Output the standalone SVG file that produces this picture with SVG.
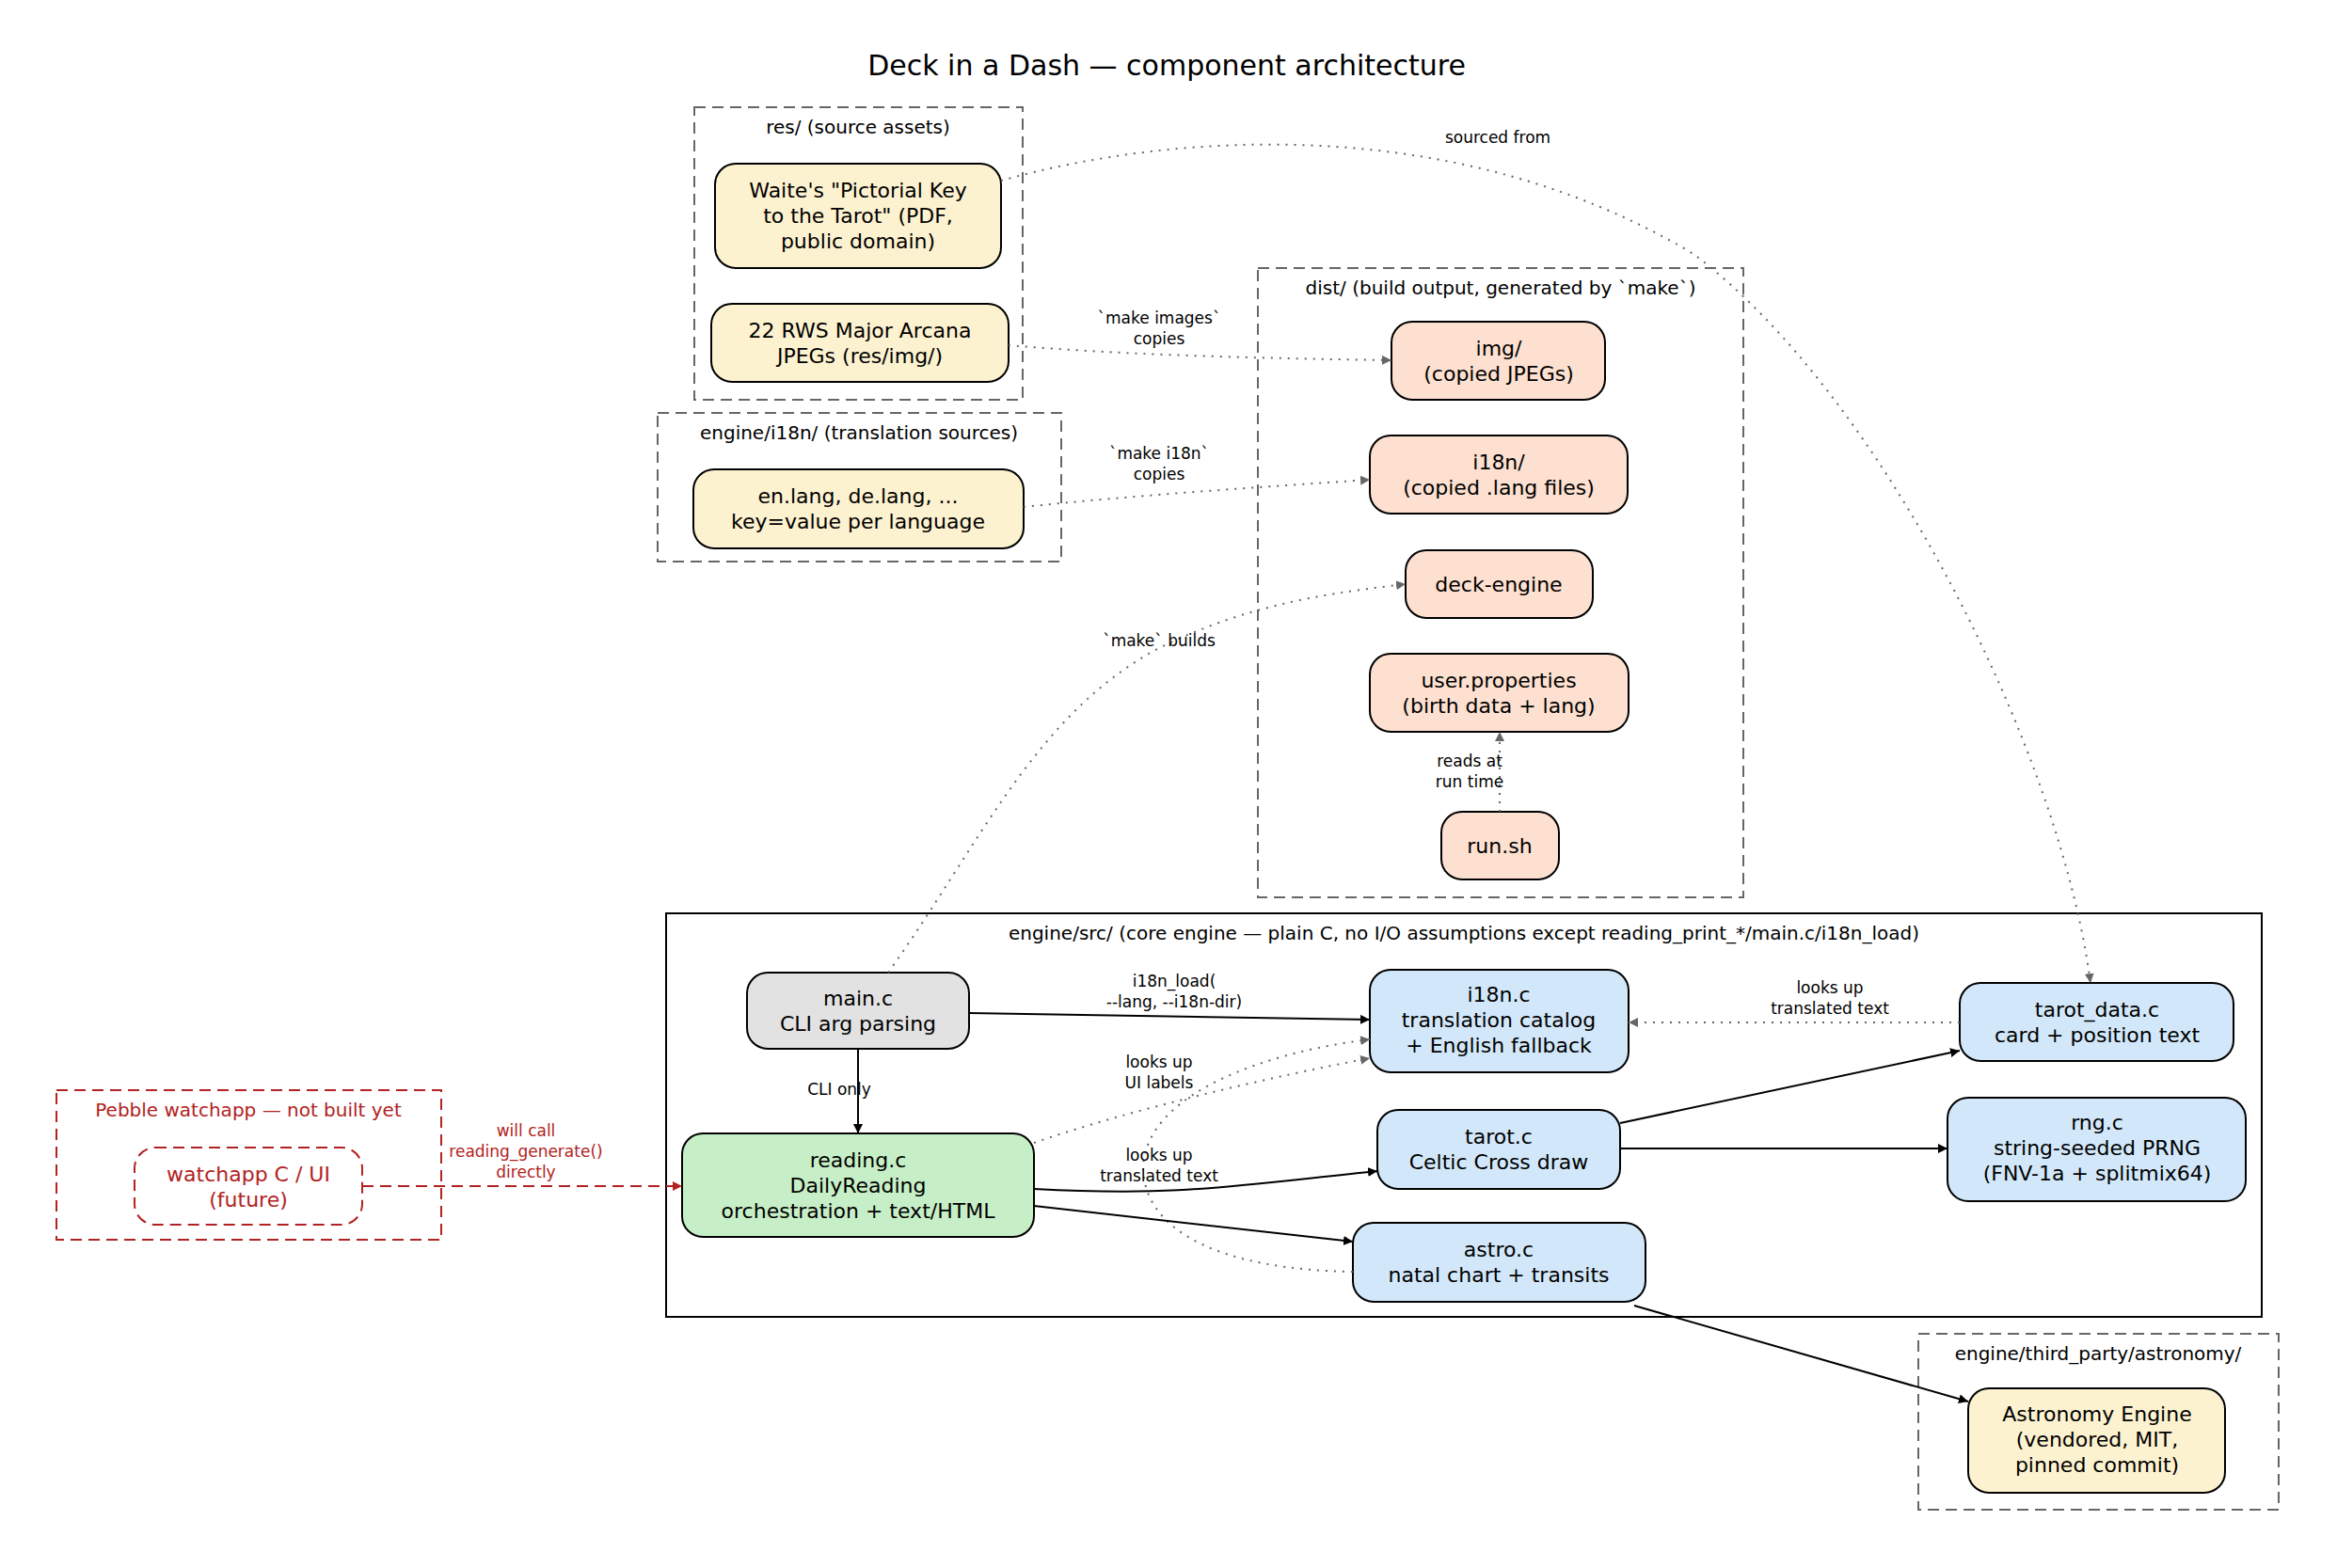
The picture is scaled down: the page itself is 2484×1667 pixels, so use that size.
<svg xmlns="http://www.w3.org/2000/svg" width="2484" height="1667" viewBox="0 0 2484 1667">
<defs>
<marker id="ab" viewBox="0 0 10 10" refX="10" refY="5" markerWidth="10" markerHeight="10" markerUnits="userSpaceOnUse" orient="auto"><path d="M0,0 L10,5 L0,10 z" fill="#000"/></marker>
<marker id="ag" viewBox="0 0 10 10" refX="10" refY="5" markerWidth="10" markerHeight="10" markerUnits="userSpaceOnUse" orient="auto"><path d="M0,0 L10,5 L0,10 z" fill="#666"/></marker>
<marker id="ar" viewBox="0 0 10 10" refX="10" refY="5" markerWidth="10" markerHeight="10" markerUnits="userSpaceOnUse" orient="auto"><path d="M0,0 L10,5 L0,10 z" fill="#b22222"/></marker>
<style>
text{font-family:"DejaVu Sans","Liberation Sans",sans-serif;text-anchor:middle;fill:#000}
.n{font-size:22px}
.cl{font-size:20px}
.el{font-size:17px}
.t{font-size:30px}
.cd{fill:none;stroke:#666;stroke-width:2;stroke-dasharray:12,7}
.cs{fill:none;stroke:#000;stroke-width:2}
.cr{fill:none;stroke:#b22222;stroke-width:2;stroke-dasharray:12,7}
rect.nd{stroke:#000;stroke-width:2}
.y{fill:#fdf2d0}.p{fill:#fde0d0}.b{fill:#d2e8fa}.g{fill:#c7efc7}.gr{fill:#e2e2e2}
.eb{fill:none;stroke:#000;stroke-width:2;marker-end:url(#ab)}
.eg{fill:none;stroke:#666;stroke-width:2;stroke-dasharray:2,7;marker-end:url(#ag)}
.er{fill:none;stroke:#b22222;stroke-width:2;stroke-dasharray:12,7;marker-end:url(#ar)}
.red{fill:#b22222}
</style>
</defs>
<rect width="2484" height="1667" fill="#fff"/>
<text class="t" x="1240" y="80">Deck in a Dash — component architecture</text>

<g id="clusters">
<rect class="cd" x="738" y="114" width="349" height="311"/>
<text class="cl" x="912" y="142">res/  (source assets)</text>
<rect class="cd" x="699" y="439" width="429" height="158"/>
<text class="cl" x="913" y="467">engine/i18n/  (translation sources)</text>
<rect class="cd" x="1337" y="285" width="516" height="669"/>
<text class="cl" x="1595" y="313">dist/  (build output, generated by `make`)</text>
<rect class="cs" x="708" y="971" width="1696" height="429"/>
<text class="cl" x="1556" y="999">engine/src/  (core engine — plain C, no I/O assumptions except reading_print_*/main.c/i18n_load)</text>
<rect class="cr" x="60" y="1159" width="409" height="159"/>
<text class="cl red" x="264" y="1187">Pebble watchapp — not built yet</text>
<rect class="cd" x="2039" y="1418" width="383" height="187"/>
<text class="cl" x="2230" y="1446">engine/third_party/astronomy/</text>
</g>

<g id="n-waite"><rect class="nd y" x="760" y="174" width="304" height="111" rx="22"/>
<text class="n" x="912" y="210">Waite's "Pictorial Key</text><text class="n" x="912" y="237">to the Tarot"  (PDF,</text><text class="n" x="912" y="264">public domain)</text></g>
<g id="n-rws"><rect class="nd y" x="756" y="323" width="316" height="83" rx="22"/>
<text class="n" x="914" y="359">22 RWS Major Arcana</text><text class="n" x="914" y="386">JPEGs  (res/img/)</text></g>
<g id="n-lang"><rect class="nd y" x="737" y="499" width="351" height="84" rx="22"/>
<text class="n" x="912" y="535">en.lang, de.lang, ...</text><text class="n" x="912" y="562">key=value per language</text></g>
<g id="n-img"><rect class="nd p" x="1479" y="342" width="227" height="83" rx="22"/>
<text class="n" x="1593" y="378">img/</text><text class="n" x="1593" y="405">(copied JPEGs)</text></g>
<g id="n-i18ndir"><rect class="nd p" x="1456" y="463" width="274" height="83" rx="22"/>
<text class="n" x="1593" y="499">i18n/</text><text class="n" x="1593" y="526">(copied .lang files)</text></g>
<g id="n-deck"><rect class="nd p" x="1494" y="585" width="199" height="72" rx="22"/>
<text class="n" x="1593" y="629">deck-engine</text></g>
<g id="n-user"><rect class="nd p" x="1456" y="695" width="275" height="83" rx="22"/>
<text class="n" x="1593" y="731">user.properties</text><text class="n" x="1593" y="758">(birth data + lang)</text></g>
<g id="n-run"><rect class="nd p" x="1532" y="863" width="125" height="72" rx="22"/>
<text class="n" x="1594" y="907">run.sh</text></g>
<g id="n-main"><rect class="nd gr" x="794" y="1034" width="236" height="81" rx="22"/>
<text class="n" x="912" y="1069">main.c</text><text class="n" x="912" y="1096">CLI arg parsing</text></g>
<g id="n-reading"><rect class="nd g" x="725" y="1205" width="374" height="110" rx="22"/>
<text class="n" x="912" y="1241">reading.c</text><text class="n" x="912" y="1268">DailyReading</text><text class="n" x="912" y="1295">orchestration + text/HTML</text></g>
<g id="n-i18nc"><rect class="nd b" x="1456" y="1031" width="275" height="109" rx="22"/>
<text class="n" x="1593" y="1065">i18n.c</text><text class="n" x="1593" y="1092">translation catalog</text><text class="n" x="1593" y="1119">+ English fallback</text></g>
<g id="n-tarotdata"><rect class="nd b" x="2083" y="1045" width="291" height="83" rx="22"/>
<text class="n" x="2229" y="1081">tarot_data.c</text><text class="n" x="2229" y="1108">card + position text</text></g>
<g id="n-tarot"><rect class="nd b" x="1464" y="1180" width="258" height="84" rx="22"/>
<text class="n" x="1593" y="1216">tarot.c</text><text class="n" x="1593" y="1243">Celtic Cross draw</text></g>
<g id="n-rng"><rect class="nd b" x="2070" y="1167" width="317" height="110" rx="22"/>
<text class="n" x="2229" y="1201">rng.c</text><text class="n" x="2229" y="1228">string-seeded PRNG</text><text class="n" x="2229" y="1255">(FNV-1a + splitmix64)</text></g>
<g id="n-astro"><rect class="nd b" x="1438" y="1300" width="311" height="84" rx="22"/>
<text class="n" x="1593" y="1336">astro.c</text><text class="n" x="1593" y="1363">natal chart + transits</text></g>
<g id="n-astronomy"><rect class="nd y" x="2092" y="1476" width="273" height="111" rx="22"/>
<text class="n" x="2229" y="1511">Astronomy Engine</text><text class="n" x="2229" y="1538">(vendored, MIT,</text><text class="n" x="2229" y="1565">pinned commit)</text></g>
<g id="n-watch"><rect x="143" y="1220" width="242" height="82" rx="22" fill="#fff" stroke="#b22222" stroke-width="2" stroke-dasharray="12,7"/>
<text class="n red" x="264" y="1256">watchapp C / UI</text><text class="n red" x="264" y="1283">(future)</text></g>

<g id="connectors">
<path class="eg" d="M1064,192 C1250,140 1550,120 1800,270 C2000,420 2190,800 2222,1045"/>
<text class="el" x="1592" y="152">sourced from</text>
<path class="eg" d="M1072,367 C1200,378 1350,381 1479,383"/>
<text class="el" x="1232" y="344">`make images`</text><text class="el" x="1232" y="366">copies</text>
<path class="eg" d="M1088,539 C1200,527 1350,517 1456,510"/>
<text class="el" x="1232" y="488">`make i18n`</text><text class="el" x="1232" y="510">copies</text>
<path class="eg" d="M944,1034 C1040,900 1100,760 1230,690 C1330,640 1420,630 1494,621"/>
<text class="el" x="1232" y="687">`make` builds</text>
<path class="eg" d="M1594,863 L1594,778"/>
<text class="el" x="1562" y="815">reads at</text><text class="el" x="1562" y="837">run time</text>
<path class="eb" d="M1030,1077 L1456,1084"/>
<text class="el" x="1248" y="1049">i18n_load(</text><text class="el" x="1248" y="1071">--lang, --i18n-dir)</text>
<path class="eb" d="M912,1115 L912,1205"/>
<text class="el" x="892" y="1164">CLI only</text>
<path class="eg" d="M1099,1215 C1200,1180 1350,1145 1456,1125"/>
<text class="el" x="1232" y="1135">looks up</text><text class="el" x="1232" y="1157">UI labels</text>
<path class="eg" d="M1438,1352 C1300,1350 1215,1310 1215,1240 C1220,1160 1350,1118 1456,1105"/>
<text class="el" x="1232" y="1234">looks up</text><text class="el" x="1232" y="1256">translated text</text>
<path class="eg" d="M2083,1087 L1731,1087"/>
<text class="el" x="1945" y="1056">looks up</text><text class="el" x="1945" y="1078">translated text</text>
<path class="eb" d="M1099,1264 C1250,1272 1300,1262 1464,1245"/>
<path class="eb" d="M1099,1282 L1438,1320"/>
<path class="eb" d="M1722,1194 L2083,1117"/>
<path class="eb" d="M1722,1221 L2070,1221"/>
<path class="eb" d="M1737,1388 L2092,1490"/>
<path class="er" d="M385,1261 L725,1261"/>
<text class="el red" x="559" y="1208">will call</text><text class="el red" x="559" y="1230">reading_generate()</text><text class="el red" x="559" y="1252">directly</text>
</g>
</svg>
